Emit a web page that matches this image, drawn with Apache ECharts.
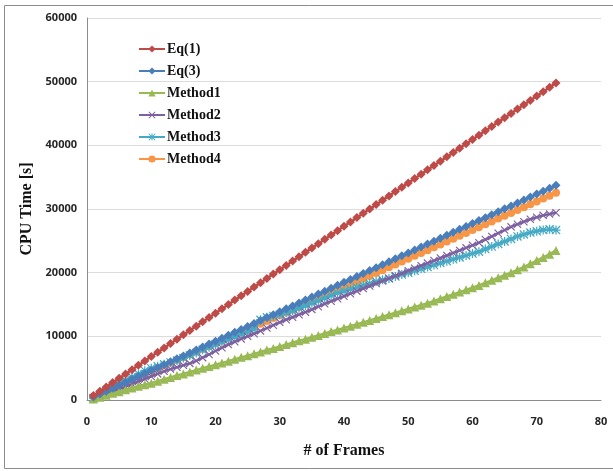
<!DOCTYPE html>
<html>
<head>
<meta charset="utf-8">
<script src="https://cdn.jsdelivr.net/npm/echarts@6/dist/echarts.min.js"></script>
<style>
  html, body { margin: 0; padding: 0; background: #fff; }
  #chart { width: 613px; height: 471px; }
</style>
</head>
<body>
<div id="chart"></div>
<script>
// CPU time per number of frames
const seriesNames = ['Eq(1)', 'Eq(3)', 'Method1', 'Method2', 'Method3', 'Method4']

const eq1 = [
  690, 1370, 2050, 2730, 3410, 4090, 4770, 5450, 6140, 6820,
  7500, 8180, 8870, 9550, 10230, 10910, 11600, 12280, 12960, 13640,
  14320, 15010, 15690, 16370, 17050, 17730, 18420, 19100, 19780, 20460,
  21140, 21830, 22510, 23190, 23870, 24550, 25240, 25920, 26600, 27280,
  27960, 28650, 29330, 30010, 30690, 31370, 32060, 32740, 33420, 34100,
  34780, 35470, 36150, 36830, 37510, 38190, 38880, 39560, 40240, 40920,
  41600, 42290, 42970, 43650, 44330, 45010, 45700, 46380, 47060, 47740,
  48420, 49110, 49790
]
const eq3 = [
  470, 930, 1390, 1850, 2310, 2770, 3240, 3700, 4160, 4620,
  5080, 5540, 6010, 6470, 6930, 7390, 7850, 8320, 8780, 9240,
  9700, 10160, 10630, 11090, 11550, 12010, 12470, 12940, 13400, 13860,
  14320, 14780, 15250, 15710, 16170, 16630, 17090, 17560, 18020, 18480,
  18940, 19400, 19870, 20330, 20790, 21250, 21710, 22180, 22640, 23100,
  23560, 24020, 24490, 24950, 25410, 25870, 26330, 26800, 27260, 27720,
  28180, 28640, 29110, 29570, 30030, 30490, 30950, 31420, 31880, 32340,
  32800, 33260, 33720
]
const method1 = [
  150, 450, 750, 1050, 1300, 1600, 1900, 2150, 2400, 2650,
  2950, 3250, 3550, 3850, 4100, 4400, 4700, 5000, 5250, 5550,
  5800, 6100, 6400, 6700, 6950, 7250, 7550, 7850, 8100, 8400,
  8700, 9000, 9300, 9550, 9850, 10150, 10450, 10750, 11000, 11300,
  11600, 11900, 12200, 12500, 12800, 13100, 13400, 13700, 14000, 14300,
  14600, 14900, 15200, 15550, 15900, 16250, 16600, 16950, 17300, 17650,
  18000, 18400, 18800, 19200, 19600, 20000, 20450, 20900, 21400, 21900,
  22400, 22900, 23500
]
const method2 = [
  200, 550, 900, 1300, 1700, 2100, 2500, 2900, 3300, 3700,
  4100, 4500, 4850, 5150, 5450, 5750, 6150, 6650, 7150, 7700,
  8200, 8700, 9150, 9600, 10000, 10400, 10850, 11300, 11750, 12200,
  12600, 13000, 13400, 13800, 14200, 14650, 15100, 15500, 15900, 16300,
  16700, 17100, 17500, 17900, 18300, 18700, 19100, 19500, 19900, 20300,
  20700, 21100, 21500, 21900, 22300, 22700, 23100, 23500, 23900, 24300,
  24700, 25200, 25700, 26200, 26700, 27200, 27600, 28000, 28400, 28700,
  29000, 29200, 29400
]
const method3 = [
  300, 800, 1400, 2000, 2600, 3100, 3600, 4100, 4600, 5000,
  5300, 5600, 5900, 6200, 6600, 7000, 7400, 7900, 8300, 8700,
  9100, 9500, 9900, 10300, 10700, 11100, 12600, 13000, 13200, 13400,
  13700, 14000, 14400, 14800, 15200, 15600, 16000, 16400, 16800, 17100,
  17400, 17700, 18000, 18300, 18600, 18900, 19100, 19400, 19700, 20000,
  20300, 20600, 20900, 21200, 21500, 21800, 22100, 22400, 22700, 23000,
  23300, 23700, 24100, 24500, 24900, 25300, 25700, 26000, 26300, 26500,
  26700, 26800, 26700
]
const method4 = [
  500, 950, 1400, 1850, 2300, 2750, 3200, 3650, 4100, 4550,
  5000, 5420, 5850, 6280, 6720, 7150, 7580, 8010, 8440, 8880,
  9320, 9760, 10200, 10650, 11100, 11540, 11980, 12420, 12860, 13300,
  13740, 14180, 14620, 15060, 15500, 15940, 16380, 16820, 17260, 17700,
  18140, 18590, 19040, 19490, 19940, 20390, 20840, 21290, 21740, 22190,
  22640, 23090, 23540, 23990, 24440, 24890, 25340, 25790, 26240, 26690,
  27140, 27590, 28040, 28490, 28940, 29390, 29840, 30290, 30740, 31190,
  31640, 32090, 32540
]

const xTicks = [0, 10, 20, 30, 40, 50, 60, 70, 80]
const yTicks = [0, 10000, 20000, 30000, 40000, 50000, 60000]

const colors = ['#BE4B48', '#4A7EBB', '#98B954', '#7D60A0', '#46AAC5', '#F79646']
const symbols = [
  'diamond',
  'diamond',
  'triangle',
  'path://M0,1L1,0L5,4L9,0L10,1L6,5L10,9L9,10L5,6L1,10L0,9L4,5Z',
  'path://M0,1L1,0L4.3,3.3L4.3,0L5.7,0L5.7,3.3L9,0L10,1L6.7,4.3L10,4.3L10,5.7L6.7,5.7L10,9L9,10L5.7,6.7L5.7,10L4.3,10L4.3,6.7L1,10L0,9L3.3,5.7L0,5.7L0,4.3L3.3,4.3Z',
  'circle'
]
const symbolSizes = [9, 9, 9, 8, 9, 8]
const allValues = [eq1, eq3, method1, method2, method3, method4]

const chart = echarts.init(document.getElementById('chart'))

const series = seriesNames.map((name, i) => ({
  name,
  type: 'line',
  data: allValues[i].map((v, k) => [k + 1, v]),
  symbol: symbols[i],
  symbolSize: symbolSizes[i],
  showAllSymbol: true,
  lineStyle: { color: colors[i], width: 2.5 },
  itemStyle: { color: colors[i], borderWidth: 0 },
  emphasis: { disabled: true },
  animation: false,
  z: 10 - i
}))

const axisLabelStyle = {
  color: '#262626',
  fontFamily: 'Open Sans, DejaVu Sans, sans-serif',
  fontWeight: 'bold',
  fontSize: 11
}

chart.setOption({
  animation: false,
  backgroundColor: '#fff',
  grid: { left: 87, right: 12, top: 18, bottom: 71 },
  legend: {
    orient: 'vertical',
    left: 133,
    top: 37,
    itemGap: 8,
    itemWidth: 26,
    itemHeight: 9,
    textStyle: {
      fontFamily: 'Liberation Serif, Times New Roman, serif',
      fontWeight: 'bold',
      fontSize: 14,
      color: '#111',
      padding: [0, 0, 0, -3]
    },
    data: seriesNames
  },
  xAxis: {
    type: 'value',
    min: xTicks[0],
    max: xTicks[xTicks.length - 1],
    interval: 10,
    name: '# of Frames',
    nameLocation: 'middle',
    nameGap: 43,
    nameTextStyle: {
      fontFamily: 'Liberation Serif, Times New Roman, serif',
      fontWeight: 'bold',
      fontSize: 16,
      color: '#111'
    },
    axisLine: { lineStyle: { color: '#8c8c8c', width: 1 } },
    axisTick: { show: false },
    splitLine: { show: false },
    axisLabel: { ...axisLabelStyle, margin: 16 }
  },
  yAxis: {
    type: 'value',
    min: yTicks[0],
    max: yTicks[yTicks.length - 1],
    interval: 10000,
    name: 'CPU Time [s]',
    nameLocation: 'middle',
    nameGap: 52,
    nameTextStyle: {
      fontFamily: 'Liberation Serif, Times New Roman, serif',
      fontWeight: 'bold',
      fontSize: 16,
      color: '#111'
    },
    axisLine: { show: true, lineStyle: { color: '#8c8c8c', width: 1 } },
    axisTick: { show: false },
    splitLine: { lineStyle: { color: '#dcdcdc', width: 1 } },
    axisLabel: { ...axisLabelStyle, margin: 10, formatter: (v) => String(v) }
  },
  graphic: [{
    type: 'rect',
    shape: { x: 4.5, y: 5.5, width: 620, height: 463 },
    style: { fill: 'none', stroke: '#8c8c8c', lineWidth: 1 },
    silent: true,
    z: -1
  }],
  series
})
</script>
</body>
</html>
